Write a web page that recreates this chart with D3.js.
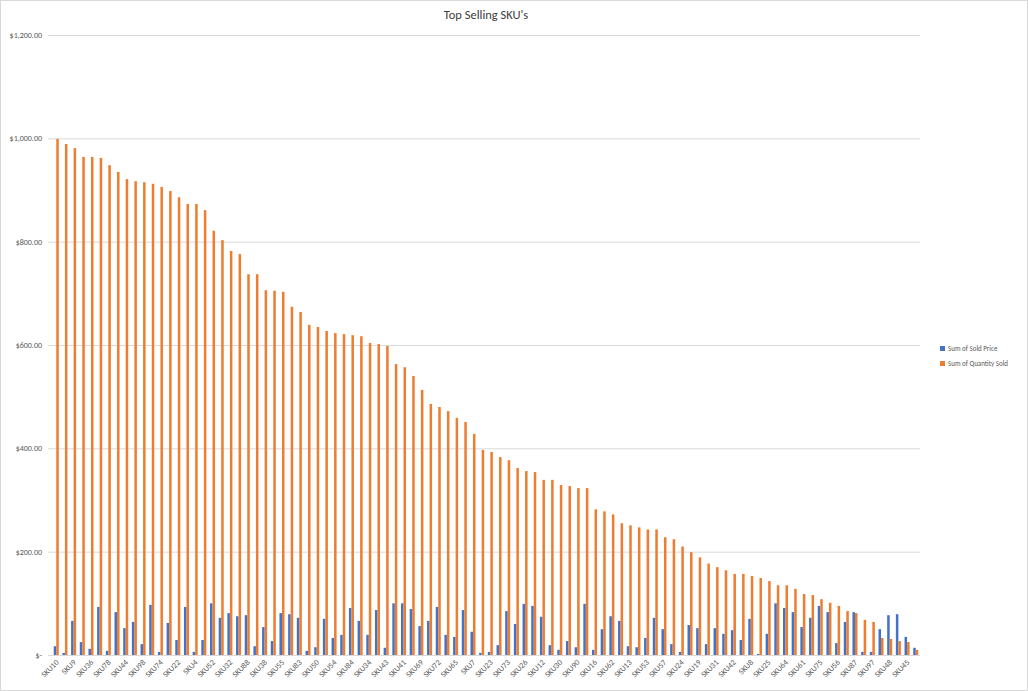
<html>
<head>
<title>Top Selling SKU's</title>
<script src="https://cdn.jsdelivr.net/npm/d3@7"></script>
<style>
body { margin: 0; background: #fff; font-family: Calibri, Carlito, "Liberation Sans", Arial, sans-serif; }
</style>
</head>
<body>
<div id="chart"></div>
<script>
var skus = ["SKU10","SKU1","SKU9","SKU2","SKU36","SKU3","SKU78","SKU5","SKU44","SKU6",
	"SKU98","SKU11","SKU74","SKU14","SKU22","SKU15","SKU4","SKU17","SKU52","SKU18",
	"SKU32","SKU20","SKU88","SKU21","SKU38","SKU27","SKU55","SKU28","SKU83","SKU29",
	"SKU50","SKU33","SKU54","SKU35","SKU84","SKU37","SKU34","SKU39","SKU43","SKU40",
	"SKU41","SKU46","SKU69","SKU47","SKU72","SKU49","SKU65","SKU51","SKU7","SKU58",
	"SKU23","SKU59","SKU73","SKU60","SKU26","SKU63","SKU12","SKU66","SKU30","SKU67",
	"SKU90","SKU68","SKU16","SKU70","SKU62","SKU71","SKU13","SKU76","SKU53","SKU77",
	"SKU57","SKU79","SKU24","SKU80","SKU19","SKU81","SKU31","SKU82","SKU42","SKU85",
	"SKU8","SKU86","SKU25","SKU89","SKU64","SKU91","SKU61","SKU92","SKU75","SKU93",
	"SKU56","SKU94","SKU87","SKU95","SKU97","SKU96","SKU48","SKU99","SKU45","SKU100"];

var soldPrice = [17,4,66,25,12,93,8,83,52,64,
	21,97,6,62,29,93,6,29,100,72,
	81,75,77,17,54,27,81,79,72,8,
	15,70,33,39,91,66,39,87,14,100,
	100,89,56,66,93,39,35,87,45,4,
	6,19,85,60,99,95,74,19,10,27,
	15,99,10,50,75,66,17,15,33,72,
	50,21,6,58,52,21,52,41,48,29,
	70,2,41,100,91,83,54,72,95,83,
	23,64,83,6,6,50,77,79,35,14];

var qtySold = [999,989,981,964,964,962,948,935,921,917,
	915,912,906,898,886,873,873,861,821,803,
	782,776,737,737,706,705,703,674,664,639,
	635,627,623,621,619,617,604,602,598,563,
	557,540,513,486,480,472,459,451,428,397,
	393,383,377,362,356,354,339,339,329,327,
	323,323,282,278,272,255,251,247,243,243,
	228,224,210,199,189,177,170,164,157,157,
	153,149,143,135,135,128,118,116,108,101,
	95,85,81,68,64,33,31,27,25,10];

var yTicks = [0, 200, 400, 600, 800, 1000, 1200];
var seriesNames = ["Sum of Sold Price", "Sum of Quantity Sold"];
var colors = ["#4472C4", "#ED7D31"];

var W = 1028, H = 691;
var margin = {left: 52, right: 108, top: 35, bottom: 36};

var svg = d3.select("#chart").append("svg")
	.attr("width", W)
	.attr("height", H);

svg.append("rect")
	.attr("x", 0.5).attr("y", 0.5)
	.attr("width", W - 1).attr("height", H - 1)
	.attr("fill", "#fff").attr("stroke", "#d9d9d9");

svg.append("text")
	.attr("x", 486).attr("y", 19)
	.attr("text-anchor", "middle")
	.attr("font-size", 12.5)
	.attr("fill", "#404040")
	.text("Top Selling SKU's");

var x = d3.scaleBand()
	.domain(skus)
	.range([margin.left, W - margin.right])
	.paddingInner(0.42)
	.paddingOuter(0.2);

var xs = d3.scaleBand()
	.domain([0, 1])
	.range([0, x.bandwidth()]);

var y = d3.scaleLinear()
	.domain([0, 1200])
	.range([H - margin.bottom, margin.top]);

var fmt = function (v) { return v == 0 ? "$-" : "$" + d3.format(",.2f")(v); };

var g = svg.append("g");
g.selectAll("line.grid")
	.data(yTicks)
	.enter().append("line")
		.attr("class", "grid")
		.attr("x1", margin.left - 4).attr("x2", W - margin.right)
		.attr("y1", function (d) { return y(d) + 0.5; })
		.attr("y2", function (d) { return y(d) + 0.5; })
		.attr("stroke", "#d9d9d9");

g.selectAll("text.ytick")
	.data(yTicks)
	.enter().append("text")
		.attr("class", "ytick")
		.attr("x", margin.left - 10)
		.attr("y", function (d) { return y(d) + 3; })
		.attr("text-anchor", "end")
		.attr("font-size", 8)
		.attr("fill", "#595959")
		.text(fmt);

var series = [soldPrice, qtySold];
series.forEach(function (vals, s) {
	svg.append("g").selectAll("rect")
		.data(skus)
		.enter().append("rect")
			.attr("x", function (d) { return x(d) + xs(s); })
			.attr("width", xs.bandwidth())
			.attr("y", function (d, i) { return y(vals[i]); })
			.attr("height", function (d, i) { return y(0) - y(vals[i]); })
			.attr("fill", colors[s]);
});

// only every other category is labelled
svg.append("g").selectAll("text")
	.data(skus.filter(function (d, i) { return i % 2 == 0; }))
	.enter().append("text")
		.attr("transform", function (d) {
			return "translate(" + (x(d) + x.bandwidth() / 2 + 3) + "," + (H - margin.bottom + 8) + ") rotate(-45)";
		})
		.attr("text-anchor", "end")
		.attr("font-size", 8)
		.attr("fill", "#595959")
		.text(function (d) { return d; });

var leg = svg.append("g").attr("transform", "translate(940,346)");
seriesNames.forEach(function (n, i) {
	leg.append("rect")
		.attr("x", 0).attr("y", i * 15)
		.attr("width", 5).attr("height", 5)
		.attr("fill", colors[i]);
	leg.append("text")
		.attr("x", 8).attr("y", i * 15 + 5)
		.attr("font-size", 7)
		.attr("fill", "#595959")
		.text(n);
});
</script>
</body>
</html>
